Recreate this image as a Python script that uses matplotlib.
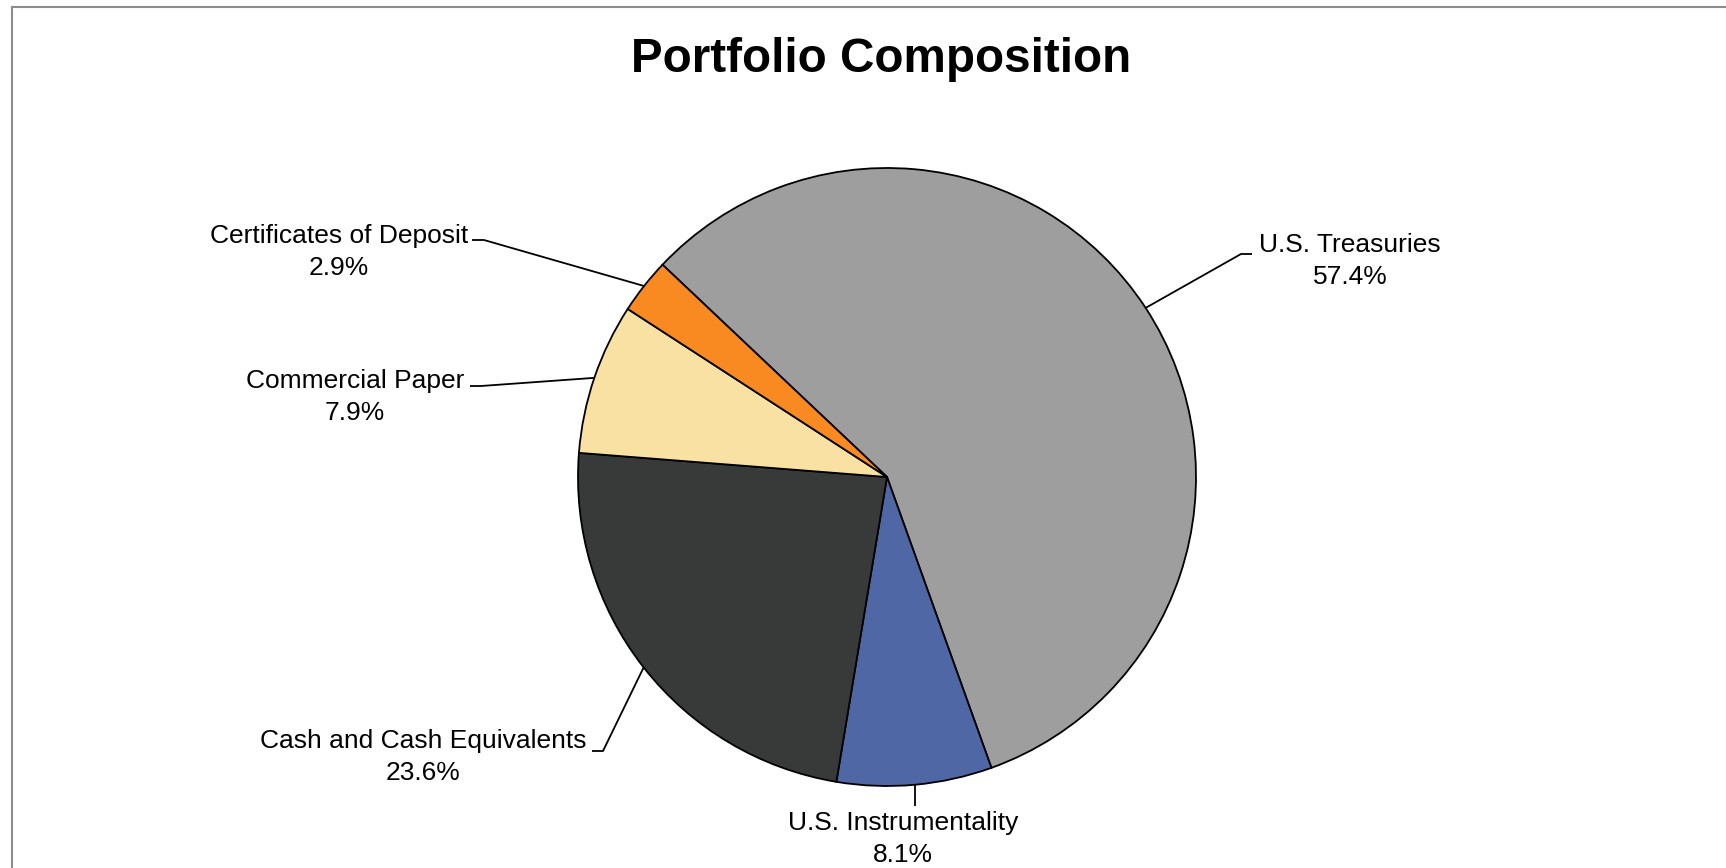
import numpy as np
import matplotlib
matplotlib.use('Agg')
import matplotlib.pyplot as plt
from matplotlib.lines import Line2D

plt.rcParams['font.family'] = ['Liberation Sans', 'DejaVu Sans']

# data (percent of portfolio)
labels = ['U.S. Treasuries', 'U.S. Instrumentality', 'Cash and Cash Equivalents',
          'Commercial Paper', 'Certificates of Deposit']
values = [57.4, 8.1, 23.6, 7.9, 2.9]
colors = ['#9e9e9e', '#4f67a5', '#383a39', '#f8e1a3', '#f98a22']

W, H = 1726, 868
fig = plt.figure(figsize=(W / 100, H / 100), dpi=100)
ax = fig.add_axes([0, 0, 1, 1])

# pie in pixel-like coords (y up)
cx, cy, r = 887, H - 477, 309
wedges, _ = ax.pie(values, colors=colors, startangle=136.6, counterclock=False,
                   center=(cx, cy), radius=r,
                   wedgeprops=dict(edgecolor='black', linewidth=1.3))
ax.set_xlim(0, W)
ax.set_ylim(0, H)
ax.set_aspect('equal')
ax.axis('off')

# label layout: text centre (x, y down), leader elbow points (y down)
label_pos = [(1350, 261), (903, 839), (423, 757), (355, 397), (339, 252)]
elbows = [[(1252, 254), (1241, 254)],
          [(915, 806)],
          [(592, 751), (603, 751)],
          [(470, 386), (481, 386)],
          [(472, 240), (484, 240)]]

for w, lab, v, (tx, ty), elb in zip(wedges, labels, values, label_pos, elbows):
    mid = np.deg2rad((w.theta1 + w.theta2) / 2)
    px = cx + r * np.cos(mid)
    py = cy + r * np.sin(mid)
    xs = [e[0] for e in elb] + [px]
    ys = [H - e[1] for e in elb] + [py]
    if len(elb) == 1:
        xs = [px, px]
        ys = [H - elb[0][1], py]
    ax.plot(xs, ys, color='black', lw=1.3, solid_capstyle='butt')
    ax.text(tx, H - ty, f'{lab}\n{v:.1f}%', ha='center', va='center',
            fontsize=19, linespacing=1.38, multialignment='center')

fig.text(881 / W, 1 - 59 / H, 'Portfolio Composition', ha='center', va='center',
         fontsize=34.3, fontweight='bold')

# chart area border (only top/left visible in the crop)
fig.add_artist(Line2D([12 / W, 12 / W], [0, 1 - 7 / H], transform=fig.transFigure,
                      color='#8c8c8c', lw=1.5))
fig.add_artist(Line2D([12 / W, 1], [1 - 7 / H, 1 - 7 / H], transform=fig.transFigure,
                      color='#8c8c8c', lw=1.5))

fig.savefig('out.png', dpi=100)
print('saved out.png')
